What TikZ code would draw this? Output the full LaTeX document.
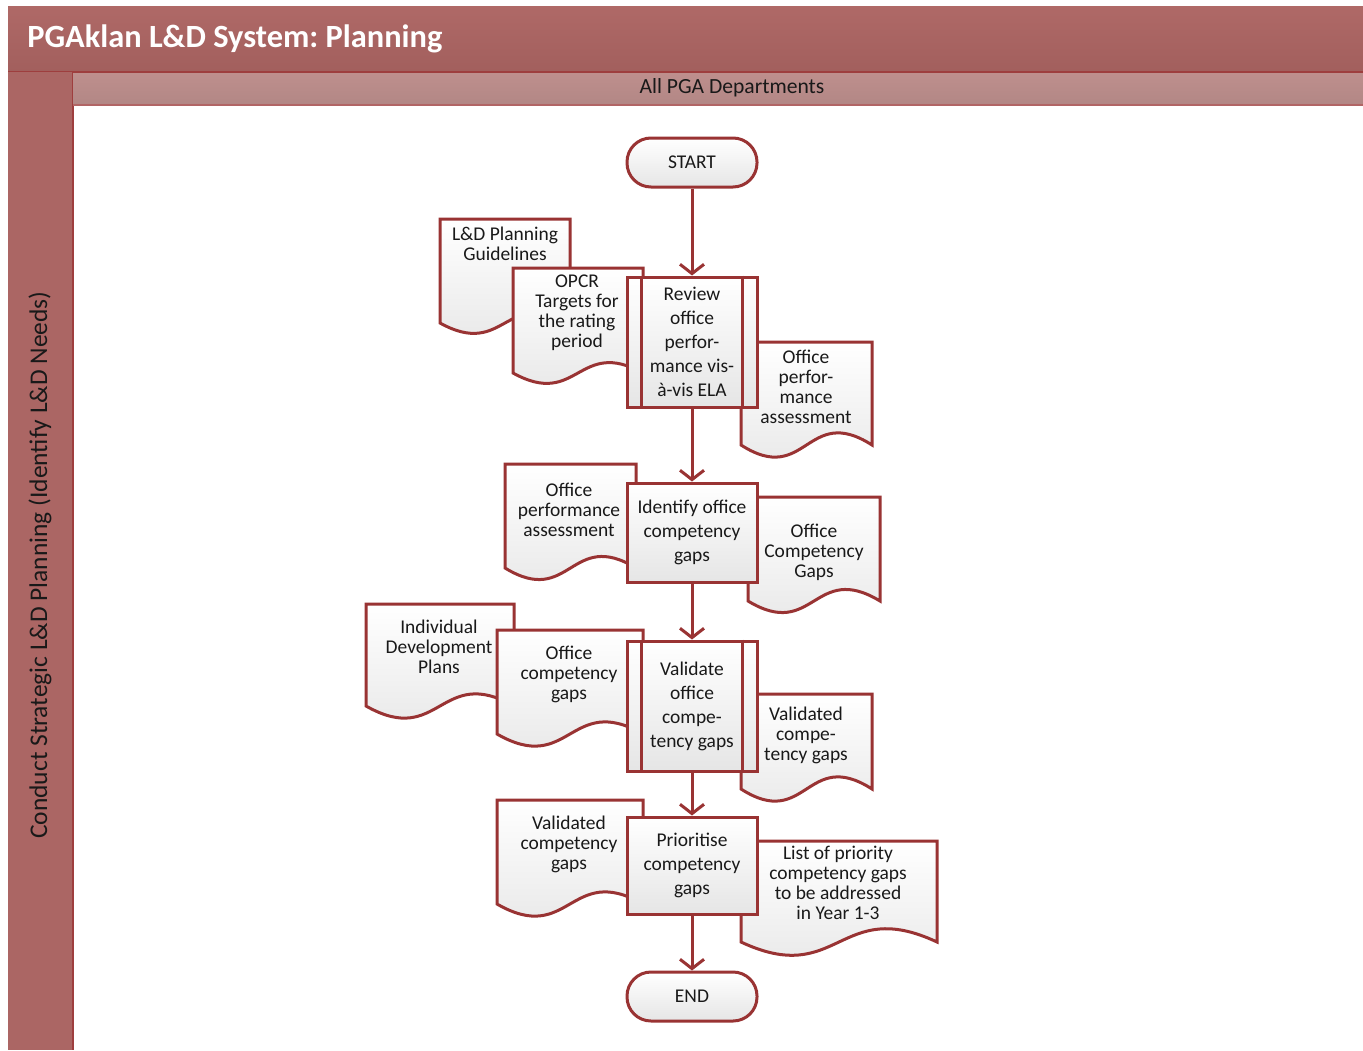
\documentclass[tikz,border=0pt]{standalone}
\usepackage{fontspec}
\setmainfont{Carlito}
\usetikzlibrary{arrows.meta}
\frenchspacing

\definecolor{lineRed}{RGB}{153,51,51}
\definecolor{barTop}{RGB}{175,105,103}
\definecolor{barBot}{RGB}{162,95,93}
\definecolor{laneRed}{RGB}{171,102,100}
\definecolor{barEdge}{RGB}{158,62,62}
\definecolor{headTop}{RGB}{190,143,141}
\definecolor{headBot}{RGB}{178,135,133}
\definecolor{textDark}{RGB}{25,25,25}

% document symbol: rectangle with a wavy lower edge
% #1 left, #2 top, #3 right, #4 bottom of the sides, #5 wave depth
\newcommand\docshape[5]{%
  \path[flow] (#1,#2) -- (#3,#2) -- (#3,#4)
    .. controls ({(#1+#3)/2},{#4-#5}) and ({(#1+#3)/2},{#4+#5}) .. (#1,#4) -- cycle;}

\begin{document}
\begin{tikzpicture}[x=0.75pt,y=-0.75pt,
  flow/.style={draw=lineRed, line width=2.25pt, top color=white, bottom color=black!10},
  procbox/.style={flow, rectangle, minimum width=97.5pt, inner sep=0pt, align=center,
    text=textDark, font=\fontsize{14.6}{18}\selectfont},
  termbox/.style={flow, rectangle, rounded corners=18pt, minimum width=97.5pt,
    minimum height=36.75pt, inner sep=0pt, text=textDark, font=\fontsize{14.6}{15}\selectfont},
  doctext/.style={align=center, inner sep=0pt, text=textDark, font=\fontsize{14.6}{15}\selectfont},
  link/.style={draw=lineRed, line width=2.25pt, -{Straight Barb[length=7pt,width=18pt,line width=2.25pt]}}
]
\useasboundingbox (0,0) rectangle (1363,1050);
\fill[white] (0,0) rectangle (1363,1050);

% swimlane frame
\shade[top color=barTop, bottom color=barBot] (8,6) rectangle (1363,72);
\draw[barEdge, line width=0.8pt] (8,72) -- (1363,72);
\fill[laneRed] (8,72) rectangle (73,1050);
\draw[barEdge, line width=0.8pt] (73,72) -- (73,1050);
\shade[top color=headTop, bottom color=headBot] (73,73) rectangle (1363,105);
\draw[barEdge!80, line width=0.8pt] (73,105) -- (1363,105);

\node[anchor=west, inner sep=0pt, text=white, font=\fontsize{24.3}{28}\selectfont\bfseries]
  (title) at (27,39) {PGAklan L\&D System: Planning};
\node[inner sep=0pt, text=textDark, font=\fontsize{16.2}{18}\selectfont]
  (dept) at (732,88) {All PGA Departments};
\node[rotate=90, inner sep=0pt, text=textDark, font=\fontsize{19.1}{22}\selectfont]
  (lane) at (40,565) {Conduct Strategic L\&D Planning (Identify L\&D Needs)};

% documents
\docshape{440}{219}{570}{323}{36}
\node[doctext] (dGuide) at (505,244) {L\&D Planning\\Guidelines};
\docshape{513}{268}{643}{373}{36}
\node[doctext] (dOpcr) at (577,313) {OPCR\\Targets for\\the rating\\period};
\docshape{741}{342}{872}{445}{42}
\node[doctext] (dPerfOut) at (806,387) {Office\\perfor-\\mance\\assessment};

\docshape{505}{464}{636}{568}{40}
\node[doctext] (dPerfIn) at (569,510) {Office\\performance\\assessment};
\docshape{748}{497}{880}{601}{40}
\node[doctext] (dGapsOut) at (814,552) {Office\\Competency\\Gaps};

\docshape{366}{604}{514}{706}{42}
\node[doctext] (dIdp) at (439,647) {Individual\\Development\\Plans};
\docshape{497}{630}{643}{734}{42}
\node[doctext] (dGapsIn) at (569,674) {Office\\competency\\gaps};
\docshape{741}{694}{872}{789}{42}
\node[doctext] (dValOut) at (806,735) {Validated\\compe-\\tency gaps};

\docshape{497}{800}{643}{904}{42}
\node[doctext] (dValIn) at (569,844) {Validated\\competency\\gaps};
\docshape{741}{841}{937}{942}{46}
\node[doctext] (dPrio) at (838,883) {List of priority\\competency gaps\\to be addressed\\in Year 1-3};

% process steps
\node[termbox] (start) at (692,162.5) {START};
\node[procbox, minimum height=97.5pt] (review) at (692,342)
  {Review\\office\\perfor-\\mance vis-\\à-vis ELA};
\node[procbox, minimum height=74.25pt] (identify) at (692,532.5)
  {Identify office\\competency\\gaps};
\node[procbox, minimum height=97.5pt] (validate) at (692,706)
  {Validate\\office\\compe-\\tency gaps};
\node[procbox, minimum height=72.75pt] (prioritise) at (692,865.5)
  {Prioritise\\competency\\gaps};
\node[termbox] (finish) at (692,996.5) {END};

% sub-process bars
\foreach \n in {review,validate}{
  \draw[lineRed, line width=2.25pt] ([xshift=12pt]\n.north west) -- ([xshift=12pt]\n.south west);
  \draw[lineRed, line width=2.25pt] ([xshift=-12pt]\n.north east) -- ([xshift=-12pt]\n.south east);
}

% flow
\draw[link] (start) -- (review);
\draw[link] (review) -- (identify);
\draw[link] (identify) -- (validate);
\draw[link] (validate) -- (prioritise);
\draw[link] (prioritise) -- (finish);
\end{tikzpicture}
\end{document}
